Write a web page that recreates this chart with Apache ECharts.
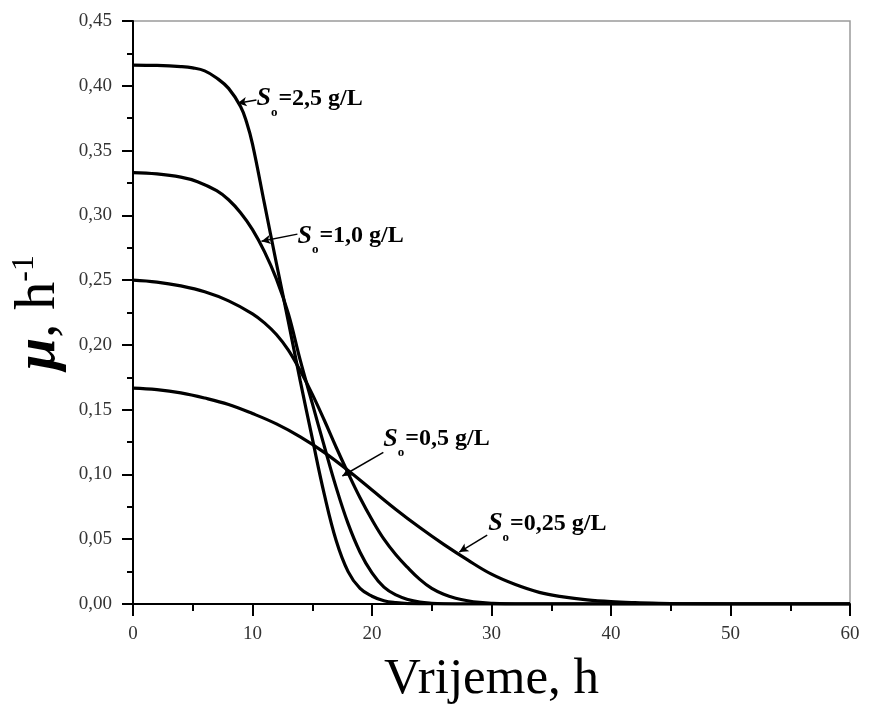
<!DOCTYPE html>
<html>
<head>
<meta charset="utf-8">
<script src="https://cdn.jsdelivr.net/npm/echarts@6/dist/echarts.min.js"></script>
<style>
  html, body { margin: 0; padding: 0; background: #fff; }
  #chart { width: 869px; height: 712px; }
</style>
</head>
<body>
<div id="chart"></div>
<script>
// values: [time h, mu 1/h]
const s25 = [[0,0.416],[2,0.4157],[4,0.4148],[5,0.4138],[6,0.4115],[7,0.406],[8,0.398],[9,0.384],[9.5,0.372],[10,0.355],
  [11,0.309],[12,0.263],[13,0.218],[14,0.172],[15,0.128],[16,0.085],[17,0.049],[18,0.025],[19,0.012],[20,0.006],
  [21,0.0025],[22,0.001],[23,0.0003],[25,0],[30,0],[60,0]];
const s10 = [[0,0.333],[2,0.332],[4,0.3295],[5.4,0.326],[7,0.319],[8,0.312],[9,0.302],[10,0.289],[11,0.272],[12,0.251],
  [13,0.224],[14,0.188],[15,0.155],[16,0.122],[17,0.090],[18,0.062],[19,0.040],[20,0.024],[21,0.013],[22,0.007],
  [23,0.0035],[24,0.0015],[25,0.0006],[26,0.0002],[28,0],[35,0],[60,0]];
const s05 = [[0,0.250],[2,0.2485],[4,0.2455],[6,0.241],[8,0.234],[10,0.224],[11,0.217],[12,0.208],[13,0.196],[14,0.180],
  [15,0.162],[16,0.142],[17,0.121],[18,0.101],[19,0.082],[20,0.065],[21,0.050],[22,0.038],[23,0.028],[24,0.019],
  [25,0.012],[26,0.0075],[27,0.0045],[28,0.0025],[29,0.0012],[30,0.0005],[32,0],[40,0],[60,0]];
const s025 = [[0,0.1667],[2,0.1655],[4,0.163],[6,0.159],[8,0.154],[10,0.147],[12,0.139],[14,0.129],[16,0.117],[18,0.103],
  [20,0.088],[22,0.073],[24,0.059],[26,0.046],[28,0.034],[30,0.023],[32,0.015],[34,0.009],[36,0.0055],[38,0.0032],
  [40,0.0018],[42,0.001],[44,0.0005],[46,0.0002],[50,0],[60,0]];

const seriesNames = ['2,5', '1,0', '0,5', '0,25'];
// label anchor (left of text) and arrow tip, in data units
const labelAt = [[10.33, 0.390], [13.76, 0.284], [20.95, 0.1275], [29.72, 0.062]];
const arrowFrom = [[10.33, 0.389], [13.76, 0.2855], [20.95, 0.117], [29.64, 0.0532]];
const arrowTo = [[8.75, 0.3866], [10.75, 0.280], [17.52, 0.0988], [27.3, 0.0401]];

var chartDom = document.getElementById('chart');
var myChart = echarts.init(chartDom);

const serif = '"Liberation Serif", "DejaVu Serif", serif';

const rich = {
  s: { fontFamily: serif, fontSize: 26, fontWeight: 'bold', fontStyle: 'italic', color: '#000' },
  sub: { fontFamily: serif, fontSize: 13, fontWeight: 'bold', color: '#000', padding: [28, 1, 0, 0] },
  t: { fontFamily: serif, fontSize: 24, fontWeight: 'bold', color: '#000' }
};

const series = [s25, s10, s05, s025].map((d, i) => ({
  type: 'line',
  data: d,
  showSymbol: false,
  smooth: 0.4,
  lineStyle: { color: '#000', width: 3.2 },
  silent: true,
  markLine: {
    silent: true,
    symbol: ['none', 'arrow'],
    symbolSize: [7, 9],
    lineStyle: { color: '#000', width: 1.5, type: 'solid' },
    label: { show: false },
    data: [[{ coord: arrowFrom[i] }, { coord: arrowTo[i] }]]
  },
  markPoint: {
    silent: true,
    symbol: 'circle',
    symbolSize: 0,
    label: {
      show: true,
      position: 'right',
      distance: 0,
      formatter: '{s|S}{sub|o}{t|=' + seriesNames[i] + ' g/L}',
      rich: rich
    },
    data: [{ coord: labelAt[i] }]
  }
}));

var option = {
  animation: false,
  backgroundColor: '#fff',
  grid: {
    left: 133, right: 19, top: 21, bottom: 108,
    outerBoundsMode: 'none',
    containLabel: false,
    show: true, borderColor: '#9a9a9a', borderWidth: 1.5
  },
  xAxis: {
    type: 'value',
    min: 0, max: 60, interval: 10,
    name: 'Vrijeme, h',
    nameLocation: 'middle',
    nameGap: 50,
    nameTextStyle: { fontFamily: serif, fontSize: 51, color: '#000' },
    axisLine: { show: true, onZero: false, lineStyle: { color: '#000', width: 2 } },
    axisTick: { show: true, length: 12, lineStyle: { color: '#000', width: 2 } },
    minorTick: { show: true, splitNumber: 2, length: 7, lineStyle: { color: '#000', width: 2 } },
    axisLabel: { margin: 21, fontFamily: serif, fontSize: 19, color: '#333' },
    splitLine: { show: false }
  },
  yAxis: {
    type: 'value',
    min: 0, max: 0.45, interval: 0.05,
    name: '{mu|μ}{t|, h}{sup|-1}',
    nameLocation: 'middle',
    nameRotate: 90,
    nameGap: 62,
    nameTextStyle: {
      rich: {
        mu: { fontFamily: serif, fontSize: 58, fontStyle: 'italic', fontWeight: 'bold', color: '#000' },
        t: { fontFamily: serif, fontSize: 56, color: '#000' },
        sup: { fontFamily: serif, fontSize: 32, color: '#000', padding: [0, 0, 28, 0] }
      }
    },
    axisLine: { show: true, onZero: false, lineStyle: { color: '#000', width: 2 } },
    axisTick: { show: true, length: 11, lineStyle: { color: '#000', width: 2 } },
    minorTick: { show: true, splitNumber: 2, length: 6, lineStyle: { color: '#000', width: 2 } },
    axisLabel: {
      margin: 21, fontFamily: serif, fontSize: 19, color: '#333',
      formatter: (v) => v.toFixed(2).replace('.', ',')
    },
    splitLine: { show: false }
  },
  series: series
};

myChart.setOption(option);
</script>
</body>
</html>
